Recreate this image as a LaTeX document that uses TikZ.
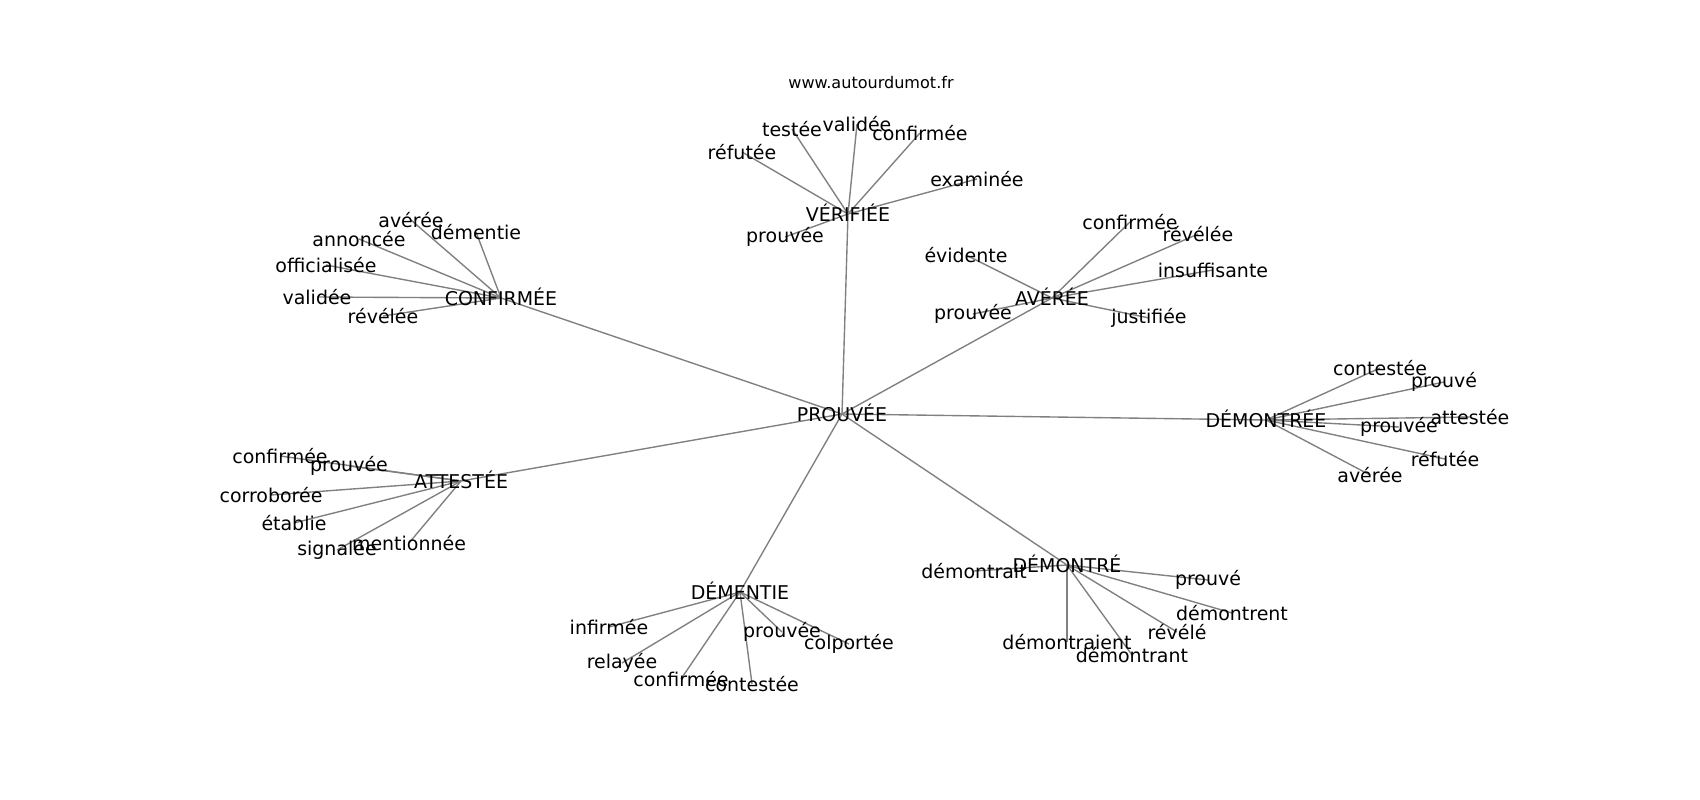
\documentclass[tikz,border=0pt]{standalone}
\usepackage{fontspec}
\setmainfont{DejaVu Sans}
\usetikzlibrary{backgrounds}
\definecolor{edgegray}{rgb}{0.5,0.5,0.5}
\tikzset{
  word/.style={inner sep=0pt,font=\fontsize{13.7}{16}\selectfont},
  hub/.style={word,text height=1.1em,text depth=0pt},
  edge/.style={line width=1pt,edgegray}
}

\begin{document}
\begin{tikzpicture}[x=0.01in,y=-0.01in]

\useasboundingbox (0,0) rectangle (1700,800);

\node [font=\fontsize{11.6}{14}\selectfont] (site) at (871,83) {www.autourdumot.fr};

% hubs
\node [hub] (prouvee) at (842,414) {PROUVÉE};
\node [hub] (verif) at (848,214) {VÉRIFIÉE};
\node [hub] (confir) at (501,298) {CONFIRMÉE};
\node [hub] (averee) at (1052,298) {AVÉRÉE};
\node [hub] (demree) at (1266,420) {DÉMONTRÉE};
\node [hub] (attest) at (461,481) {ATTESTÉE};
\node [hub] (dementie) at (740,592) {DÉMENTIE};
\node [hub] (demre) at (1067,565) {DÉMONTRÉ};

% around VÉRIFIÉE
\node [word] (verif1) at (742,152) {réfutée};
\node [word] (verif2) at (792,129) {testée};
\node [word] (verif3) at (857,124) {validée};
\node [word] (verif4) at (920,133) {confirmée};
\node [word] (verif5) at (977,179) {examinée};
\node [word] (verif6) at (785,237) {prouvée};

% around CONFIRMÉE
\node [word] (confir1) at (411,220) {avérée};
\node [word] (confir2) at (476,232) {démentie};
\node [word] (confir3) at (359,239) {annoncée};
\node [word] (confir4) at (326,265) {officialisée};
\node [word] (confir5) at (317,297) {validée};
\node [word] (confir6) at (383,316) {révélée};

% around AVÉRÉE
\node [word] (averee1) at (1130,222) {confirmée};
\node [word] (averee2) at (1198,234) {révélée};
\node [word] (averee3) at (966,255) {évidente};
\node [word] (averee4) at (1213,270) {insuffisante};
\node [word] (averee5) at (973,314) {prouvée};
\node [word] (averee6) at (1149,318) {justifiée};

% around DÉMONTRÉE
\node [word] (demree1) at (1380,368) {contestée};
\node [word] (demree2) at (1444,382) {prouvé};
\node [word] (demree3) at (1470,417) {attestée};
\node [word] (demree4) at (1399,427) {prouvée};
\node [word] (demree5) at (1445,459) {réfutée};
\node [word] (demree6) at (1370,475) {avérée};

% around ATTESTÉE
\node [word] (attest1) at (280,456) {confirmée};
\node [word] (attest2) at (349,466) {prouvée};
\node [word] (attest3) at (271,495) {corroborée};
\node [word] (attest4) at (294,523) {établie};
\node [word] (attest5) at (337,550) {signalée};
\node [word] (attest6) at (409,543) {mentionnée};

% around DÉMENTIE
\node [word] (dementie1) at (609,627) {infirmée};
\node [word] (dementie2) at (622,663) {relayée};
\node [word] (dementie3) at (681,679) {confirmée};
\node [word] (dementie4) at (752,684) {contestée};
\node [word] (dementie5) at (782,632) {prouvée};
\node [word] (dementie6) at (849,644) {colportée};

% around DÉMONTRÉ
\node [word] (demre1) at (974,571) {démontrait};
\node [word] (demre2) at (1208,580) {prouvé};
\node [word] (demre3) at (1232,613) {démontrent};
\node [word] (demre4) at (1177,632) {révélé};
\node [word] (demre5) at (1067,642) {démontraient};
\node [word] (demre6) at (1132,655) {démontrant};

% edges under the words
\begin{pgfonlayer}{background}
\draw [edge] (prouvee.center) -- (verif.center);
\draw [edge] (prouvee.center) -- (confir.center);
\draw [edge] (prouvee.center) -- (averee.center);
\draw [edge] (prouvee.center) -- (demree.center);
\draw [edge] (prouvee.center) -- (attest.center);
\draw [edge] (prouvee.center) -- (dementie.center);
\draw [edge] (prouvee.center) -- (demre.center);

\draw [edge] (verif.center) -- (verif1.center);
\draw [edge] (verif.center) -- (verif2.center);
\draw [edge] (verif.center) -- (verif3.center);
\draw [edge] (verif.center) -- (verif4.center);
\draw [edge] (verif.center) -- (verif5.center);
\draw [edge] (verif.center) -- (verif6.center);

\draw [edge] (confir.center) -- (confir1.center);
\draw [edge] (confir.center) -- (confir2.center);
\draw [edge] (confir.center) -- (confir3.center);
\draw [edge] (confir.center) -- (confir4.center);
\draw [edge] (confir.center) -- (confir5.center);
\draw [edge] (confir.center) -- (confir6.center);

\draw [edge] (averee.center) -- (averee1.center);
\draw [edge] (averee.center) -- (averee2.center);
\draw [edge] (averee.center) -- (averee3.center);
\draw [edge] (averee.center) -- (averee4.center);
\draw [edge] (averee.center) -- (averee5.center);
\draw [edge] (averee.center) -- (averee6.center);

\draw [edge] (demree.center) -- (demree1.center);
\draw [edge] (demree.center) -- (demree2.center);
\draw [edge] (demree.center) -- (demree3.center);
\draw [edge] (demree.center) -- (demree4.center);
\draw [edge] (demree.center) -- (demree5.center);
\draw [edge] (demree.center) -- (demree6.center);

\draw [edge] (attest.center) -- (attest1.center);
\draw [edge] (attest.center) -- (attest2.center);
\draw [edge] (attest.center) -- (attest3.center);
\draw [edge] (attest.center) -- (attest4.center);
\draw [edge] (attest.center) -- (attest5.center);
\draw [edge] (attest.center) -- (attest6.center);

\draw [edge] (dementie.center) -- (dementie1.center);
\draw [edge] (dementie.center) -- (dementie2.center);
\draw [edge] (dementie.center) -- (dementie3.center);
\draw [edge] (dementie.center) -- (dementie4.center);
\draw [edge] (dementie.center) -- (dementie5.center);
\draw [edge] (dementie.center) -- (dementie6.center);

\draw [edge] (demre.center) -- (demre1.center);
\draw [edge] (demre.center) -- (demre2.center);
\draw [edge] (demre.center) -- (demre3.center);
\draw [edge] (demre.center) -- (demre4.center);
\draw [edge] (demre.center) -- (demre5.center);
\draw [edge] (demre.center) -- (demre6.center);
\end{pgfonlayer}

\end{tikzpicture}
\end{document}
